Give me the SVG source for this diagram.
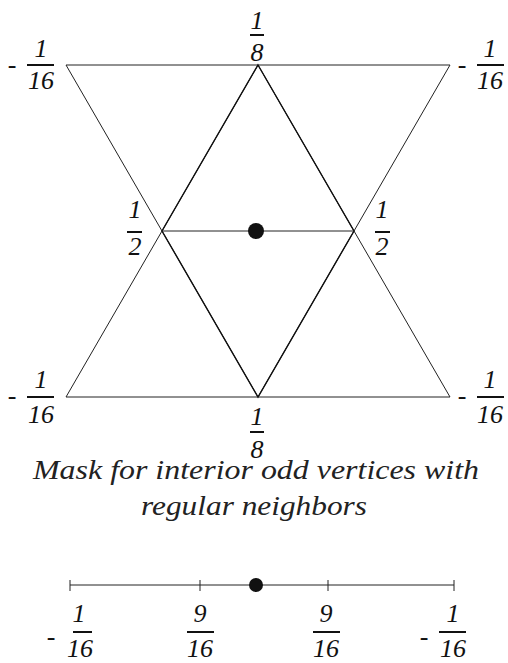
<svg xmlns="http://www.w3.org/2000/svg" width="508" height="663" viewBox="0 0 508 663">
<style>
.ln{stroke:#222;stroke-width:1;fill:none}
.in{stroke:#111;stroke-width:1.4;fill:none}
.bar{stroke:#111;stroke-width:2}
.t{font-style:italic;font-size:26px;fill:#111;text-anchor:middle}
.m{font-size:26px;fill:#111;text-anchor:middle}
.cap{font-style:italic;font-size:28px;fill:#222;text-anchor:middle}
</style>
<rect width="508" height="663" fill="#fff"/>
<g id="connectors">
<line class="ln" x1="66" y1="65" x2="450" y2="65"/>
<line class="ln" x1="66" y1="397" x2="450" y2="397"/>
<line class="ln" x1="66" y1="65" x2="258" y2="397"/>
<line class="ln" x1="450" y1="65" x2="258" y2="397"/>
<line class="ln" x1="66" y1="397" x2="258" y2="65"/>
<line class="ln" x1="450" y1="397" x2="258" y2="65"/>
<polygon class="in" points="258,65 354,231 258,397 162,231"/>
<line class="ln" x1="162" y1="231" x2="354" y2="231"/>
<line class="ln" x1="70" y1="585" x2="454" y2="585"/>
<line class="ln" x1="70" y1="580" x2="70" y2="591"/>
<line class="ln" x1="200" y1="580" x2="200" y2="591"/>
<line class="ln" x1="328" y1="580" x2="328" y2="591"/>
<line class="ln" x1="454" y1="580" x2="454" y2="591"/>
</g>
<g id="center"><circle cx="256" cy="231" r="8" fill="#111"/></g>
<g id="center-1d"><circle cx="256" cy="585" r="7" fill="#111"/></g>
<g font-family="Liberation Serif, Times New Roman, DejaVu Serif, serif">
<g id="w-topleft">
<text class="m" x="12" y="73">-</text>
<text class="t" x="41" y="57">1</text>
<line class="bar" x1="27" y1="65" x2="54" y2="65"/>
<text class="t" x="41" y="89">16</text>
</g>
<g id="w-topright">
<text class="m" x="462" y="73">-</text>
<text class="t" x="490" y="57">1</text>
<line class="bar" x1="477" y1="65" x2="504" y2="65"/>
<text class="t" x="490" y="89">16</text>
</g>
<g id="w-bottomleft">
<text class="m" x="12" y="404">-</text>
<text class="t" x="41" y="388">1</text>
<line class="bar" x1="27" y1="397" x2="54" y2="397"/>
<text class="t" x="41" y="423">16</text>
</g>
<g id="w-bottomright">
<text class="m" x="462" y="404">-</text>
<text class="t" x="490" y="388">1</text>
<line class="bar" x1="477" y1="397" x2="504" y2="397"/>
<text class="t" x="490" y="423">16</text>
</g>
<g id="w-top">
<text class="t" x="257" y="29">1</text>
<line class="bar" x1="250" y1="35" x2="264" y2="35"/>
<text class="t" x="257" y="61">8</text>
</g>
<g id="w-bottom">
<text class="t" x="257" y="425">1</text>
<line class="bar" x1="250" y1="432" x2="264" y2="432"/>
<text class="t" x="257" y="458">8</text>
</g>
<g id="w-left">
<text class="t" x="135" y="218">1</text>
<line class="bar" x1="127" y1="232" x2="142" y2="232"/>
<text class="t" x="135" y="255">2</text>
</g>
<g id="w-right">
<text class="t" x="382" y="218">1</text>
<line class="bar" x1="375" y1="232" x2="390" y2="232"/>
<text class="t" x="382" y="255">2</text>
</g>
<g id="caption">
<text class="cap" x="256" y="479" textLength="446" lengthAdjust="spacingAndGlyphs">Mask for interior odd vertices with</text>
<text class="cap" x="254" y="515" textLength="226" lengthAdjust="spacingAndGlyphs">regular neighbors</text>
</g>
<g id="w1d-1">
<text class="m" x="51" y="645">-</text>
<text class="t" x="79" y="622">1</text>
<line class="bar" x1="73" y1="632" x2="92" y2="632"/>
<text class="t" x="80" y="657">16</text>
</g>
<g id="w1d-2">
<text class="t" x="200" y="622">9</text>
<line class="bar" x1="187" y1="632" x2="214" y2="632"/>
<text class="t" x="200" y="657">16</text>
</g>
<g id="w1d-3">
<text class="t" x="326" y="622">9</text>
<line class="bar" x1="313" y1="632" x2="340" y2="632"/>
<text class="t" x="326" y="657">16</text>
</g>
<g id="w1d-4">
<text class="m" x="424" y="645">-</text>
<text class="t" x="453" y="622">1</text>
<line class="bar" x1="439" y1="632" x2="466" y2="632"/>
<text class="t" x="453" y="657">16</text>
</g>
</g>
</svg>
